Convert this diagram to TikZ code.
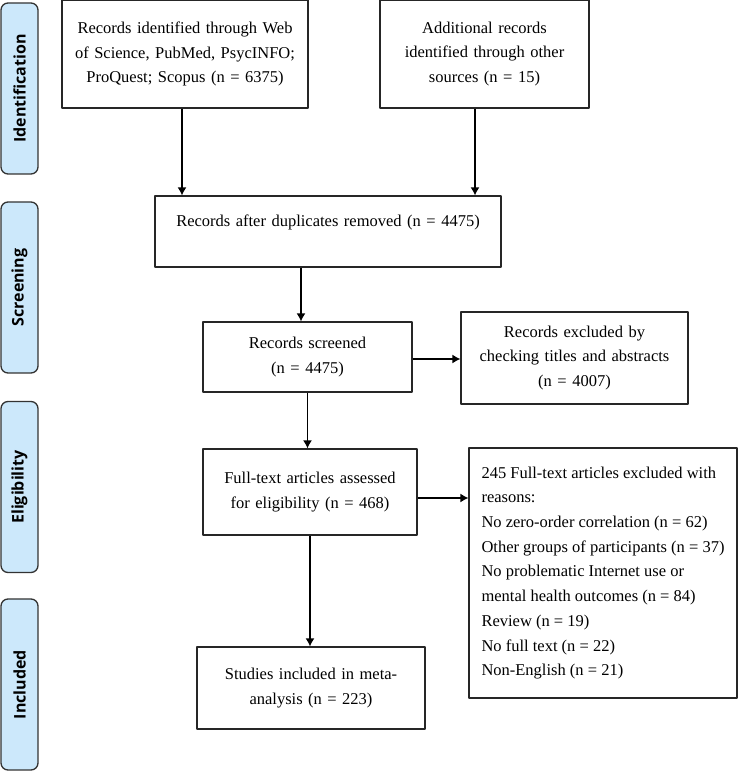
\documentclass[tikz,border=0pt]{standalone}
\usepackage{fontspec}
\setmainfont{Liberation Serif}
\newfontfamily\stagefont{Open Sans}
\usetikzlibrary{arrows.meta}
\definecolor{stagefill}{RGB}{204,232,251}

\begin{document}
\begin{tikzpicture}[>={Latex[length=8bp,width=9bp]},line join=bevel,
  box/.style={draw=black!85,line width=1.2bp,fill=white,inner xsep=4bp,inner ysep=2bp,
    align=center,font=\fontsize{16.5bp}{24.7bp}\selectfont},
  stage/.style={draw=black!80,line width=1.3bp,fill=stagefill,rounded corners=7bp,
    rotate=90,minimum width=171bp,minimum height=37bp,inner sep=0pt,
    font=\stagefont\bfseries\fontsize{16bp}{20bp}\selectfont}]
  \pgfsetlinewidth{1.3bp}
  \useasboundingbox (0bp,0bp) rectangle (738bp,772bp);
%%
  % Node: stages
  \node[stage] (ident) at (19.5bp,683.5bp) {Identification};
  \node[stage] (screen) at (19.5bp,484.5bp) {Screening};
  \node[stage] (eligl) at (19.5bp,285bp) {Eligibility};
  \node[stage] (incl) at (19.5bp,87.5bp) {Included};
  % Node: idb
  \node[box,text width=238bp,minimum height=108bp] (idb) at (185bp,718bp)
    {Records identified through Web\\ of Science, PubMed, PsycINFO;\\ ProQuest; Scopus (n = 6375)};
  % Node: add
  \node[box,text width=201bp,minimum height=108bp] (add) at (484.5bp,718bp)
    {Additional records\\ identified through other\\ sources (n = 15)};
  % Node: dup
  \node[box,text width=338bp,minimum height=71bp,text depth=22bp] (dup) at (328bp,540.5bp)
    {Records after duplicates removed (n = 4475)};
  % Node: scr
  \node[box,text width=201bp,minimum height=70bp] (scr) at (307.5bp,415bp)
    {Records screened\\ (n = 4475)};
  % Node: excl
  \node[box,text width=219bp,minimum height=92bp] (excl) at (574.5bp,414bp)
    {Records excluded by\\ checking titles and abstracts\\ (n = 4007)};
  % Node: elig
  \node[box,text width=206bp,minimum height=86bp] (elig) at (310bp,280bp)
    {Full-text articles assessed\\ for eligibility (n = 468)};
  % Node: fte
  \node[box,align=left,minimum width=268bp,minimum height=250bp] (fte) at (603bp,199bp)
    {245 Full-text articles excluded with\\ reasons:\\ No zero-order correlation (n = 62)\\
     Other groups of participants (n = 37)\\ No problematic Internet use or\\
     mental health outcomes (n = 84)\\ Review (n = 19)\\ No full text (n = 22)\\ Non-English (n = 21)};
  % Node: inc
  \node[box,text width=220bp,minimum height=82bp] (inc) at (311bp,84bp)
    {Studies included in meta-\\ analysis (n = 223)};
  % Edge: idb -> dup
  \draw[->] ([xshift=-3bp]idb.south) -- ([xshift=-3bp]idb.south |- dup.north);
  % Edge: add -> dup
  \draw[->] ([xshift=-9.5bp]add.south) -- ([xshift=-9.5bp]add.south |- dup.north);
  % Edge: dup -> scr
  \draw[->] ([xshift=-6.5bp]scr.north |- dup.south) -- ([xshift=-6.5bp]scr.north);
  % Edge: scr -> excl
  \draw[->] ([yshift=-2bp]scr.east) -- ([yshift=-2bp]scr.east -| excl.west);
  % Edge: scr -> elig
  \draw[->] (scr.south) -- (scr.south |- elig.north);
  % Edge: elig -> fte
  \draw[->] ([yshift=-6bp]elig.east) -- ([yshift=-6bp]elig.east -| fte.west);
  % Edge: elig -> inc
  \draw[->] (elig.south) -- (elig.south |- inc.north);
%
\end{tikzpicture}
\end{document}
